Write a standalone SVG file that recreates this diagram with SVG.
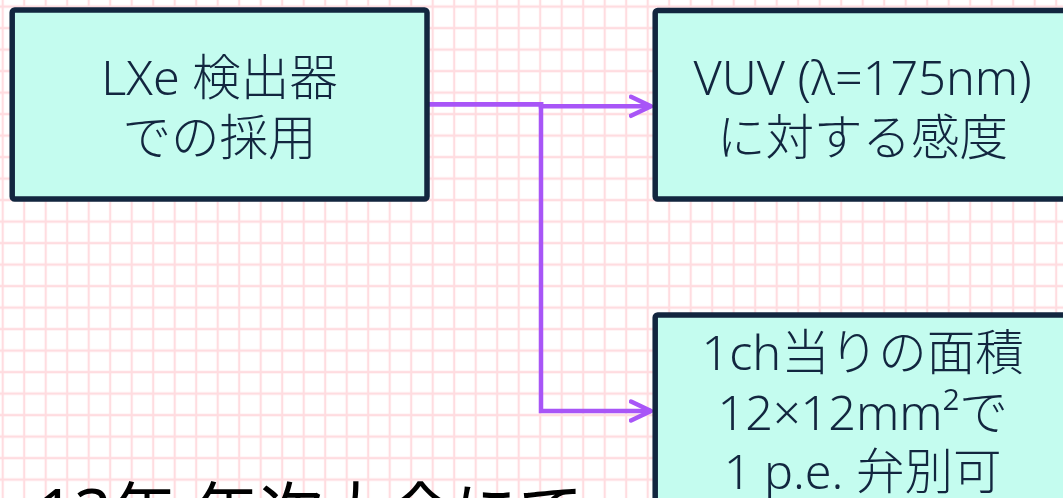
<svg xmlns="http://www.w3.org/2000/svg" width="1063" height="498" viewBox="0 0 1063 498">
<defs>
<pattern id="grid" patternUnits="userSpaceOnUse" x="-8.05" y="-4.15" width="21.5" height="21.5">
<path d="M10.75,0 V21.5 M0,10.75 H21.5" fill="none" stroke="#ffdce0" stroke-width="2.2"/>
</pattern>
<marker id="arr" markerUnits="userSpaceOnUse" markerWidth="30" markerHeight="30" refX="22" refY="12" orient="auto" viewBox="0 0 30 24">
<path d="M2,2.5 L22,12 L2,21.5" fill="none" stroke="#a855f7" stroke-width="4.5" stroke-linecap="round" stroke-linejoin="round"/>
</marker>
<style>
.box{fill:#c4fcef;stroke:#12263f;stroke-width:5.5}
.lbl{font-family:"Noto Sans","Noto Sans CJK JP",sans-serif;font-size:48.5px;font-weight:300;fill:#12263f;text-anchor:middle}
.conn{fill:none;stroke:#a855f7;stroke-width:4.5;stroke-linejoin:miter}
.foot{font-family:"Noto Sans","Noto Sans CJK JP",sans-serif;font-size:65px;fill:#000000}
</style>
</defs>
<rect x="0" y="0" width="1063" height="498" fill="#ffffff"/>
<rect x="0" y="0" width="1063" height="498" fill="url(#grid)"/>
<g id="connectors">
<path class="conn" d="M428,104.3 H541 V106.3 H651" marker-end="url(#arr)"/>
<path class="conn" d="M428,104.3 H541 V411 H651" marker-end="url(#arr)"/>
</g>
<g id="node-lxe">
<rect class="box" x="12.2" y="10" width="414.8" height="189" rx="2.5"/>
<text class="lbl" x="219.6" y="94.7">LXe 検出器</text>
<text class="lbl" x="219.6" y="154.7">での採用</text>
</g>
<g id="node-vuv">
<rect class="box" x="655.2" y="10.4" width="414.8" height="188.6" rx="2.5"/>
<text class="lbl" x="862.6" y="95.2">VUV (λ=175nm)</text>
<text class="lbl" x="862.6" y="155.2">に対する感度</text>
</g>
<g id="node-area">
<rect class="box" x="655.2" y="315" width="414.8" height="220" rx="2.5"/>
<text class="lbl" x="862.6" y="369.5">1ch当りの面積</text>
<text class="lbl" x="862.6" y="430">12×12mm²で</text>
<text class="lbl" x="862.6" y="489">1 p.e. 弁別可</text>
</g>
<g id="footer">
<text class="foot" x="37" y="536">13年 年次大会にて</text>
</g>
</svg>
